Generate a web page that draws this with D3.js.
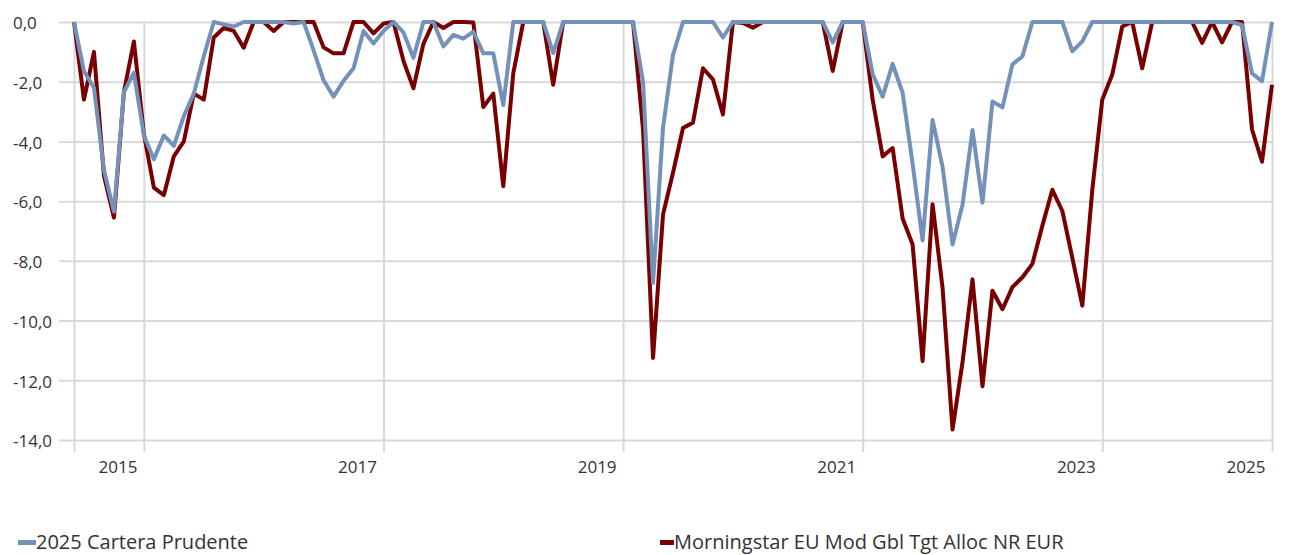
<!DOCTYPE html>
<html>
<head>
<meta charset="utf-8">
<script src="https://cdn.jsdelivr.net/npm/d3@7"></script>
<style>
  body { margin: 0; background: #fff; }
  #chart text { font-family: "Open Sans", "Noto Sans", sans-serif; fill: #333; }
</style>
</head>
<body>
<div id="chart"></div>
<script>
// monthly drawdown (%), May 2015 -> May 2025
const months = d3.timeMonth.range(new Date(2015, 4, 1), new Date(2025, 5, 1)).map(d3.timeFormat('%Y-%m'));

const cartera = [
  0, -1.65, -2.2, -4.95, -6.35, -2.35, -1.7, -3.8, -4.6, -3.8,
  -4.15, -3.15, -2.4, -1.15, 0, -0.08, -0.15, 0, 0, 0,
  0, 0, -0.05, 0, -0.95, -1.95, -2.5, -1.97, -1.55, -0.3,
  -0.72, -0.3, 0, -0.35, -1.2, 0, 0, -0.82, -0.43, -0.56,
  -0.32, -1.05, -1.05, -2.78, 0, 0, 0, 0, -1.04, 0,
  0, 0, 0, 0, 0, 0, 0, -2.0, -8.74, -3.54,
  -1.1, 0, 0, 0, 0, -0.52, 0, 0, 0, 0,
  0, 0, 0, 0, 0, 0, -0.68, 0, 0, 0,
  -1.75, -2.5, -1.4, -2.37, -4.75, -7.32, -3.28, -4.85, -7.45, -6.12,
  -3.62, -6.05, -2.66, -2.86, -1.42, -1.15, 0, 0, 0, 0,
  -0.98, -0.65, 0, 0, 0, 0, 0, 0, 0, 0,
  0, 0, 0, 0, 0, 0, 0, -0.1, -1.72, -1.98,
  0
];

const morningstar = [
  0, -2.6, -1.0, -5.15, -6.55, -2.35, -0.65, -3.75, -5.55, -5.8,
  -4.5, -4.0, -2.4, -2.6, -0.52, -0.2, -0.3, -0.86, 0, 0,
  -0.3, 0, 0, 0, 0, -0.85, -1.05, -1.05, 0, 0,
  -0.38, -0.05, 0, -1.3, -2.22, -0.73, 0, -0.2, 0, 0,
  -0.02, -2.85, -2.4, -5.5, -1.72, 0, 0, 0, -2.1, 0,
  0, 0, 0, 0, 0, 0, 0, -3.6, -11.25, -6.45,
  -5.05, -3.55, -3.37, -1.55, -1.92, -3.1, 0, -0.03, -0.19, 0,
  0, 0, 0, 0, 0, 0, -1.64, 0, 0, 0,
  -2.6, -4.5, -4.22, -6.58, -7.45, -11.36, -6.1, -8.9, -13.65, -11.4,
  -8.62, -12.2, -9.0, -9.62, -8.88, -8.55, -8.1, -6.82, -5.62, -6.33,
  -7.9, -9.5, -5.62, -2.6, -1.76, -0.15, 0, -1.55, 0, 0,
  0, 0, 0, -0.7, 0, -0.68, 0, 0, -3.6, -4.68,
  -2.1
];

const seriesNames = ['2025 Cartera Prudente', 'Morningstar EU Mod Gbl Tgt Alloc NR EUR'];
const seriesColors = ['#7491ba', '#780000'];

const yTicks = [0, -2, -4, -6, -8, -10, -12, -14];
const xTickMonths = ['2015-05', '2015-12', '2017-12', '2019-12', '2021-12', '2023-12', '2025-05'];
const xTickLabels = ['', '2015', '2017', '2019', '2021', '2023', '2025'];

function drawChart() {
  d3.select('#chart').selectAll('*').remove();

  const W = 1290, H = 555;
  const gridLeft = 59, left = 74, right = 1272, top = 22, bottom = 440;

  const svg = d3.select('#chart')
    .append('svg')
    .attr('width', W)
    .attr('height', H);

  const x = d3.scalePoint()
    .domain(months)
    .range([left, right]);

  const y = d3.scaleLinear()
    .domain([-14, 0])
    .range([bottom, top]);

  const fmt = d3.formatLocale({ decimal: ',', thousands: '.', grouping: [3], currency: ['', ' €'], minus: '-' }).format('.1f');

  // Y axis + horizontal grid
  const yAxis = svg.append('g')
    .attr('transform', `translate(${gridLeft},0)`)
    .call(d3.axisLeft(y).tickValues(yTicks).tickSize(-(right - gridLeft)).tickFormat(fmt));
  yAxis.select('.domain').remove();
  yAxis.selectAll('.tick line').attr('stroke', '#d9d9d9').attr('stroke-width', 2);
  yAxis.selectAll('.tick text')
    .attr('x', 13 - gridLeft)
    .attr('dy', '0.4em')
    .attr('text-anchor', 'start')
    .style('font-size', '17px');

  // X axis + vertical grid (ticks hang 12px under the plot)
  const tickBottom = 452;
  const xAxis = svg.append('g')
    .attr('transform', `translate(0,${tickBottom})`)
    .call(d3.axisBottom(x)
      .tickValues(xTickMonths)
      .tickSize(-(tickBottom - top))
      .tickFormat((d, i) => xTickLabels[i]));
  xAxis.select('.domain').remove();
  xAxis.selectAll('.tick line').attr('stroke', '#d9d9d9').attr('stroke-width', 2);
  xAxis.selectAll('.tick text')
    .attr('y', 9)
    .attr('dx', -7)
    .attr('dy', '0.71em')
    .attr('text-anchor', 'end')
    .style('font-size', '17px');

  // Lines
  const line = d3.line()
    .x((d, i) => x(months[i]))
    .y(d => y(d));

  [morningstar, cartera].forEach((vals, k) => {
    svg.append('path')
      .datum(vals)
      .attr('fill', 'none')
      .attr('stroke', k === 0 ? seriesColors[1] : seriesColors[0])
      .attr('stroke-width', 4)
      .attr('stroke-linejoin', 'round')
      .attr('d', line);
  });

  // Legend
  const legendX = [18, 660];
  const legend = svg.append('g');
  seriesNames.forEach((name, i) => {
    legend.append('rect')
      .attr('x', legendX[i])
      .attr('y', 540)
      .attr('width', i === 0 ? 18 : 14)
      .attr('height', 5)
      .attr('fill', seriesColors[i]);
    legend.append('text')
      .attr('x', legendX[i] + (i === 0 ? 18 : 14))
      .attr('y', 549)
      .style('font-size', '20px')
      .text(name);
  });
}

drawChart();
</script>
</body>
</html>
